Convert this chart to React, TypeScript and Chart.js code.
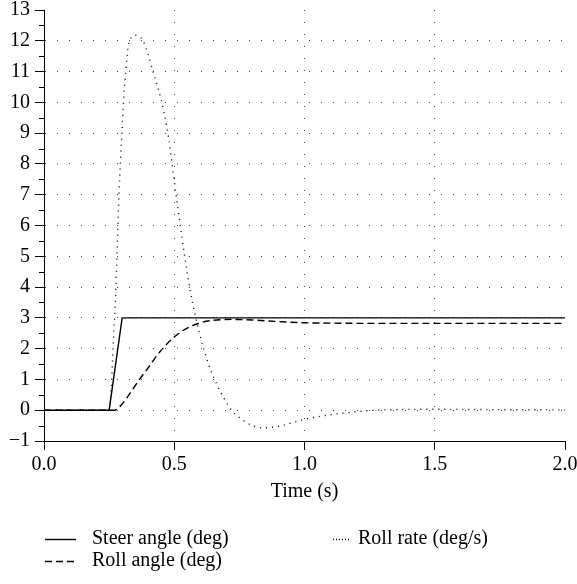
import React, { useEffect, useRef } from "react";
import { Chart, registerables } from "chart.js";

Chart.register(...registerables);

// ---- data ----
const steerTime = [0, 0.25, 0.3, 2.0];
const steerDeg = [0, 0, 3, 3];

const rollAngleTime = [0, 0.27, 0.3, 0.33, 0.365, 0.4, 0.445, 0.5, 0.55, 0.6, 0.65, 0.72, 0.8, 0.9, 1.0, 1.1, 1.25, 1.5, 2.0];
const rollAngleDeg = [0, 0, 0.2, 0.55, 0.98, 1.38, 1.9, 2.38, 2.67, 2.84, 2.92, 2.95, 2.93, 2.88, 2.84, 2.83, 2.82, 2.82, 2.82];

const rollRateTime = [0, 0.25, 0.255, 0.26, 0.265, 0.271, 0.276, 0.282, 0.288, 0.294, 0.299, 0.305, 0.314, 0.323, 0.335, 0.35, 0.362, 0.38, 0.4, 0.42, 0.44, 0.46, 0.48, 0.5, 0.52, 0.54, 0.56, 0.58, 0.6, 0.62, 0.64, 0.66, 0.69, 0.72, 0.76, 0.8, 0.84, 0.9, 0.99, 1.08, 1.165, 1.25, 1.35, 1.5, 1.7, 2.0];
const rollRateDegS = [0, 0, 0.3, 1, 2, 3, 4, 5.5, 7, 8.2, 9, 10, 11, 11.8, 12.1, 12.18, 12.15, 12.0, 11.55, 10.95, 10.4, 9.7, 8.75, 7.45, 6.2, 5.0, 3.95, 3.1, 2.4, 1.8, 1.3, 0.9, 0.4, 0, -0.3, -0.5, -0.57, -0.52, -0.32, -0.17, -0.08, -0.01, 0.02, 0.03, 0.02, 0.01];

const seriesLabels = ["Steer angle (deg)", "Roll angle (deg)", "Roll rate (deg/s)"];
const xAxisTitle = "Time (s)";
const xMin = 0, xMax = 2, xStep = 0.5;
const yMin = -1, yMax = 13, yStep = 1;

const zip = (xs: number[], ys: number[]) => xs.map((x, i) => ({ x, y: ys[i] }));

const FONT = "'Liberation Serif', 'Times New Roman', serif";
const FONT_SIZE = 20;

const extrasPlugin = {
  id: "extras",
  afterDraw(chart: any) {
    const ctx = chart.ctx;
    const ys = chart.scales.y;
    const { left } = chart.chartArea;
    ctx.save();
    ctx.strokeStyle = "#000";
    ctx.lineWidth = 1;
    // minor ticks on y axis
    for (let v = yMin + 0.5; v < yMax; v += 1) {
      const py = Math.round(ys.getPixelForValue(v)) + 0.5;
      ctx.beginPath();
      ctx.moveTo(left - 5, py);
      ctx.lineTo(left, py);
      ctx.stroke();
    }
    // legend
    const ds = chart.data.datasets;
    const items = [
      { i: 0, x1: 45, x2: 76, tx: 92, y: 539 },
      { i: 1, x1: 45, x2: 77, tx: 92, y: 561 },
      { i: 2, x1: 333, x2: 351, tx: 358, y: 539 },
    ];
    ctx.font = `${FONT_SIZE}px ${FONT}`;
    ctx.fillStyle = "#000";
    ctx.textBaseline = "middle";
    ctx.textAlign = "left";
    for (const it of items) {
      const d = ds[it.i];
      ctx.save();
      ctx.lineWidth = d.borderWidth;
      ctx.strokeStyle = "#000";
      ctx.setLineDash(it.i === 2 ? [1, 2] : d.borderDash || []);
      ctx.beginPath();
      ctx.moveTo(it.x1, it.y + 0.5);
      ctx.lineTo(it.x2, it.y + 0.5);
      ctx.stroke();
      ctx.restore();
      ctx.fillText(d.label, it.tx, it.y);
    }
    ctx.restore();
  },
};

export default function App() {
  const canvasRef = useRef<HTMLCanvasElement | null>(null);

  useEffect(() => {
    document.body.style.margin = "0";
    const canvas = canvasRef.current;
    if (!canvas) return;
    const chart = new Chart(canvas, {
      type: "line",
      data: {
        datasets: [
          {
            label: seriesLabels[0],
            data: zip(steerTime, steerDeg),
            borderColor: "#000",
            borderWidth: 1.4,
            pointRadius: 0,
            tension: 0,
          },
          {
            label: seriesLabels[1],
            data: zip(rollAngleTime, rollAngleDeg),
            borderColor: "#000",
            borderWidth: 1.4,
            borderDash: [7, 4],
            pointRadius: 0,
            cubicInterpolationMode: "monotone",
          },
          {
            label: seriesLabels[2],
            data: zip(rollRateTime, rollRateDegS),
            borderColor: "#000",
            borderWidth: 1.4,
            borderDash: [1, 5],
            pointRadius: 0,
            cubicInterpolationMode: "monotone",
          },
        ],
      },
      options: {
        responsive: false,
        animation: false,
        devicePixelRatio: 1,
        layout: { padding: { left: 0, right: 12, top: 10, bottom: 80 } },
        font: { family: FONT, size: FONT_SIZE },
        plugins: {
          legend: { display: false },
          tooltip: { enabled: false },
        },
        scales: {
          x: {
            type: "linear",
            min: xMin,
            max: xMax,
            afterFit: (s: any) => {
              s.height = 63;
              s.paddingLeft = 0;
              s.paddingRight = 0;
            },
            ticks: {
              stepSize: xStep,
              color: "#000",
              padding: 3,
              maxRotation: 0,
              font: { family: FONT, size: FONT_SIZE },
              callback: (v: any) => Number(v).toFixed(1),
            },
            grid: {
              color: (c: any) =>
                c.tick && (c.tick.value === xMin || c.tick.value === xMax) ? "rgba(0,0,0,0)" : "rgba(0,0,0,0.75)",
              lineWidth: 1,
              tickColor: "#000",
              tickLength: 9,
              drawTicks: true,
            },
            border: { display: true, color: "#000", width: 1, dash: [1, 11] },
            title: {
              display: true,
              text: xAxisTitle,
              color: "#000",
              padding: 0,
              font: { family: FONT, size: FONT_SIZE },
            },
          },
          y: {
            type: "linear",
            min: yMin,
            max: yMax,
            afterFit: (s: any) => {
              s.width = 44;
              s.paddingTop = 0;
              s.paddingBottom = 0;
            },
            ticks: {
              stepSize: yStep,
              color: "#000",
              padding: 5,
              font: { family: FONT, size: FONT_SIZE },
              callback: (v: any) => (Number(v) < 0 ? "\u2212" + Math.abs(Number(v)) : String(v)),
            },
            grid: {
              color: (c: any) =>
                c.tick && (c.tick.value === yMin || c.tick.value === yMax) ? "rgba(0,0,0,0)" : "rgba(0,0,0,0.75)",
              lineWidth: 1,
              tickColor: "#000",
              tickLength: 9,
              drawTicks: true,
            },
            border: { display: true, color: "#000", width: 1, dash: [1, 11] },
          },
        },
      } as any,
      plugins: [extrasPlugin],
    });
    return () => chart.destroy();
  }, []);

  return (
    <div style={{ width: 577, height: 584 }}>
      <canvas ref={canvasRef} width={577} height={584} style={{ display: "block" }} />
    </div>
  );
}
